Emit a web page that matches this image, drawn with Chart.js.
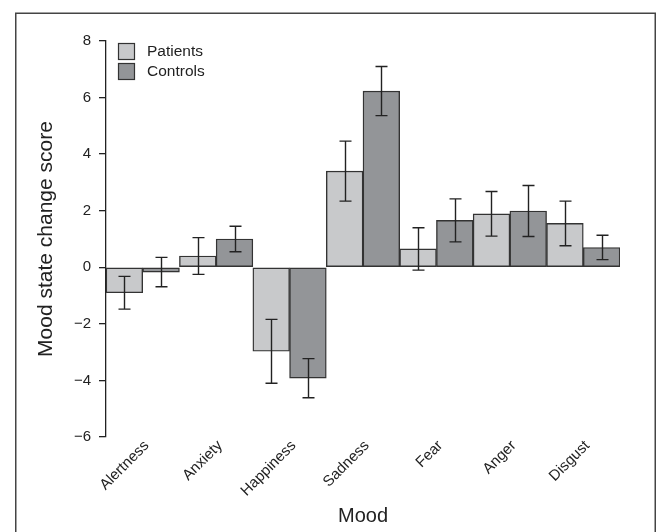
<!DOCTYPE html>
<html>
<head>
<meta charset="utf-8">
<script src="https://cdn.jsdelivr.net/npm/chart.js@4/dist/chart.umd.min.js"></script>
<style>
html,body{margin:0;padding:0;background:#fff;}
#wrap{position:relative;width:660px;height:532px;}
</style>
</head>
<body>
<div id="wrap"><canvas id="c" width="660" height="532"></canvas></div>
<script>
const categories = ["Alertness", "Anxiety", "Happiness", "Sadness", "Fear", "Anger", "Disgust"];
const seriesNames = ["Patients", "Controls"];
const patients = [-0.9, 0.4, -2.97, 3.4, 0.65, 1.89, 1.55];
const controls = [-0.17, 1.0, -3.92, 6.23, 1.66, 1.99, 0.7];
const patientsErr = [0.58, 0.65, 1.13, 1.06, 0.75, 0.79, 0.79];
const controlsErr = [0.52, 0.45, 0.69, 0.87, 0.76, 0.9, 0.43];
const yTicks = [-6, -4, -2, 0, 2, 4, 6, 8];

const FONT = "'Liberation Sans', Arial, sans-serif";
const colors = ["#c8c9cb", "#939598"];
const errs = [patientsErr, controlsErr];

const frame = {
  id: 'frame',
  beforeDraw(chart) {
    const ctx = chart.ctx;
    ctx.save();
    ctx.fillStyle = '#fff';
    ctx.fillRect(0, 0, chart.width, chart.height);
    ctx.strokeStyle = '#444';
    ctx.lineWidth = 1.5;
    ctx.strokeRect(15.75, 13.25, 639.5, 530);
    ctx.restore();
  }
};

const errorBars = {
  id: 'errorBars',
  afterDatasetsDraw(chart) {
    const ctx = chart.ctx;
    const y = chart.scales.y;
    ctx.save();
    ctx.strokeStyle = '#222';
    ctx.lineWidth = 1.4;
    chart.data.datasets.forEach((ds, di) => {
      const meta = chart.getDatasetMeta(di);
      meta.data.forEach((bar, i) => {
        const v = ds.data[i], e = errs[di][i];
        const x = Math.round(bar.x) + 0.5;
        const yt = y.getPixelForValue(v + e), yb = y.getPixelForValue(v - e);
        ctx.beginPath();
        ctx.moveTo(x, yt); ctx.lineTo(x, yb);
        ctx.moveTo(x - 6, yt); ctx.lineTo(x + 6, yt);
        ctx.moveTo(x - 6, yb); ctx.lineTo(x + 6, yb);
        ctx.stroke();
      });
    });
    ctx.restore();
  }
};

const legendBox = {
  id: 'legendBox',
  afterDraw(chart) {
    const ctx = chart.ctx;
    ctx.save();
    ctx.font = '15.5px ' + FONT;
    ctx.textBaseline = 'middle';
    seriesNames.forEach((name, i) => {
      const top = 43 + i * 20;
      ctx.fillStyle = colors[i];
      ctx.fillRect(118.5, top + 0.5, 16, 16);
      ctx.strokeStyle = '#333';
      ctx.lineWidth = 1.2;
      ctx.strokeRect(118.5, top + 0.5, 16, 16);
      ctx.fillStyle = '#222';
      ctx.fillText(name, 147, top + 9);
    });
    ctx.restore();
  }
};

new Chart(document.getElementById('c'), {
  type: 'bar',
  data: {
    labels: categories,
    datasets: [
      { label: seriesNames[0], data: patients, backgroundColor: colors[0], borderColor: '#333', borderWidth: 1.4, categoryPercentage: 1, barPercentage: 1, borderSkipped: false },
      { label: seriesNames[1], data: controls, backgroundColor: colors[1], borderColor: '#333', borderWidth: 1.4, categoryPercentage: 1, barPercentage: 1, borderSkipped: false }
    ]
  },
  options: {
    responsive: false,
    animation: false,
    layout: { padding: { left: 30, right: 40, top: 41, bottom: 0 } },
    plugins: { legend: { display: false }, tooltip: { enabled: false } },
    scales: {
      x: {
        grid: { display: false, drawTicks: false },
        border: { display: false },
        ticks: { color: '#222', font: { family: FONT, size: 15 }, minRotation: 45, maxRotation: 45, padding: 0, labelOffset: 4 },
        title: { display: true, text: 'Mood', color: '#222', font: { family: FONT, size: 20 }, padding: { top: 0, bottom: 4 } },
        afterFit(s) { s.height = 532 - 437; }
      },
      y: {
        min: -6, max: 8,
        afterBuildTicks(s) { s.ticks = yTicks.map(v => ({ value: v })); },
        grid: { drawOnChartArea: false, drawTicks: true, tickLength: 7, color: '#222', lineWidth: 1.3 },
        border: { display: true, color: '#222', width: 1.3 },
        ticks: { color: '#222', font: { family: FONT, size: 15 }, padding: 8, callback: v => (v < 0 ? '\u2212' + Math.abs(v) : String(v)) },
        title: { display: true, text: 'Mood state change score', color: '#222', font: { family: FONT, size: 21 }, padding: { top: 4, bottom: 0 } },
        afterFit(s) { s.width = 106 - 30; }
      }
    }
  },
  plugins: [frame, errorBars, legendBox]
});
</script>
</body>
</html>
